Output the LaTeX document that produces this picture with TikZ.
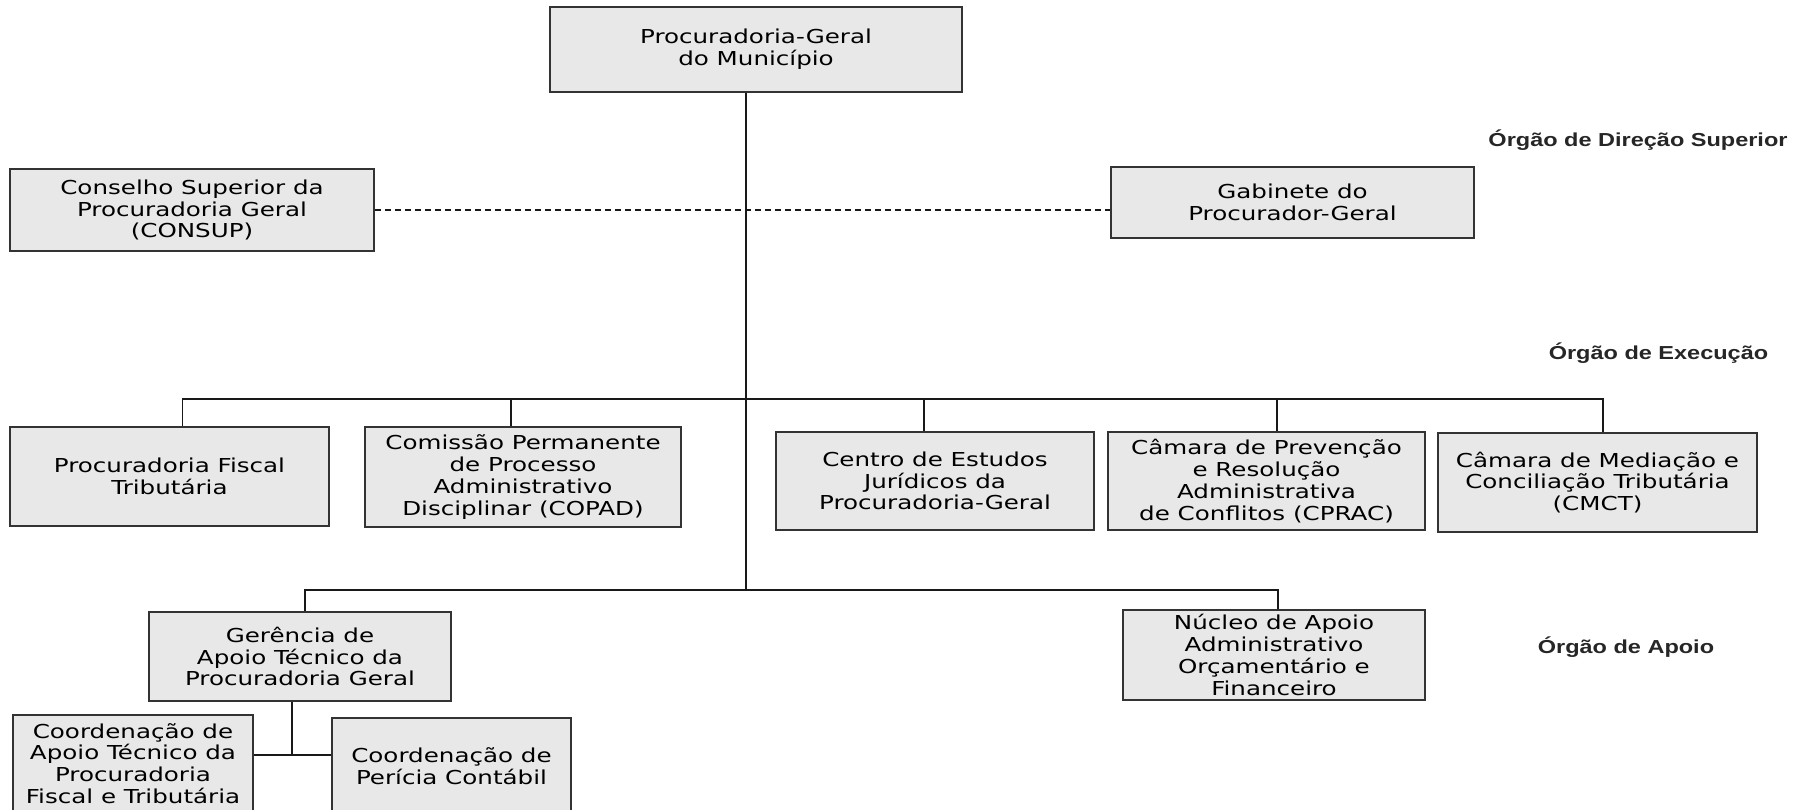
\documentclass[tikz,border=0pt]{standalone}
\usepackage{fontspec}
\setmainfont{DejaVu Sans}[FakeStretch=1.28]
\newfontfamily\tierfont{Liberation Sans}[FakeStretch=1.25]

\tikzset{
  orgbox/.style={draw=black!80, fill=black!9, line width=1pt, align=center, inner sep=0pt,
    font=\fontsize{9.6}{10.9}\selectfont},
  wire/.style={draw=black!90, line width=0.75pt},
  tier/.style={text=black!85, font=\tierfont\bfseries\fontsize{9.4}{11}\selectfont},
}

\begin{document}
\begin{tikzpicture}[x=0.5pt, y=-0.5pt]

\useasboundingbox (0,0) rectangle (1800,809);

% Direção superior
\node[orgbox, minimum width=206pt, minimum height=42.5pt] (pgm) at (756,49.5) {Procuradoria-Geral\\do Município};
\node[orgbox, minimum width=182pt, minimum height=41pt] (consup) at (192,210) {Conselho Superior da\\Procuradoria Geral\\(CONSUP)};
\node[orgbox, minimum width=181.5pt, minimum height=35.5pt] (gab) at (1292.5,202.5) {Gabinete do\\Procurador-Geral};

% Execução
\node[orgbox, minimum width=159.5pt, minimum height=49.5pt] (pft) at (169.5,476.5) {Procuradoria Fiscal\\Tributária};
\node[orgbox, minimum width=158pt, minimum height=50pt] (copad) at (523,477) {Comissão Permanente\\de Processo\\Administrativo\\Disciplinar (COPAD)};
\node[orgbox, minimum width=159pt, minimum height=49pt] (cejur) at (935,481) {Centro de Estudos\\Jurídicos da\\Procuradoria-Geral};
\node[orgbox, minimum width=158.5pt, minimum height=49pt] (cprac) at (1266.5,481) {Câmara de Prevenção\\e Resolução\\Administrativa\\de Conflitos (CPRAC)};
\node[orgbox, minimum width=159.5pt, minimum height=49.5pt] (cmct) at (1597.5,482.5) {Câmara de Mediação e\\Conciliação Tributária\\(CMCT)};

% Apoio
\node[orgbox, minimum width=151pt, minimum height=44.5pt] (ger) at (300,656.5) {Gerência de\\Apoio Técnico da\\Procuradoria Geral};
\node[orgbox, minimum width=151pt, minimum height=45pt] (nuc) at (1274,655) {Núcleo de Apoio\\Administrativo\\Orçamentário e\\Financeiro};
\node[orgbox, minimum width=120pt, minimum height=48.5pt] (cat) at (133,763.5) {Coordenação de\\Apoio Técnico da\\Procuradoria\\Fiscal e Tributária};
\node[orgbox, minimum width=119.5pt, minimum height=48pt] (cpc) at (451.5,766) {Coordenação de\\Perícia Contábil};

% level labels
\node[tier] (dir) at (1638,140) {Órgão de Direção Superior};
\node[tier] (exe) at (1658.5,353) {Órgão de Execução};
\node[tier] (apo) at (1626,647) {Órgão de Apoio};

% connectors
\coordinate (exec) at (746,399);
\coordinate (apoio) at (746,590);
\coordinate (coord) at (292,755);
\draw[wire] ([xshift=-5pt]pgm.south) -- (apoio);
\draw[wire, dash pattern=on 3pt off 2pt] (consup.east) -- (consup.east -| gab.west);
\draw[wire] ([xshift=6.5pt]pft.north) |- (exec);
\draw[wire] ([xshift=-6pt]copad.north) |- (exec);
\draw[wire] ([xshift=-5.5pt]cejur.north) |- (exec);
\draw[wire] ([xshift=5.25pt]cprac.north) |- (exec);
\draw[wire] ([xshift=2.75pt]cmct.north) |- (exec);
\draw[wire] ([xshift=2.5pt]ger.north) |- (apoio);
\draw[wire] ([xshift=2pt]nuc.north) |- (apoio);
\draw[wire] ([xshift=-4pt]ger.south) -- (coord);
\draw[wire] (cat.east |- coord) -- (cpc.west |- coord);

\end{tikzpicture}
\end{document}
